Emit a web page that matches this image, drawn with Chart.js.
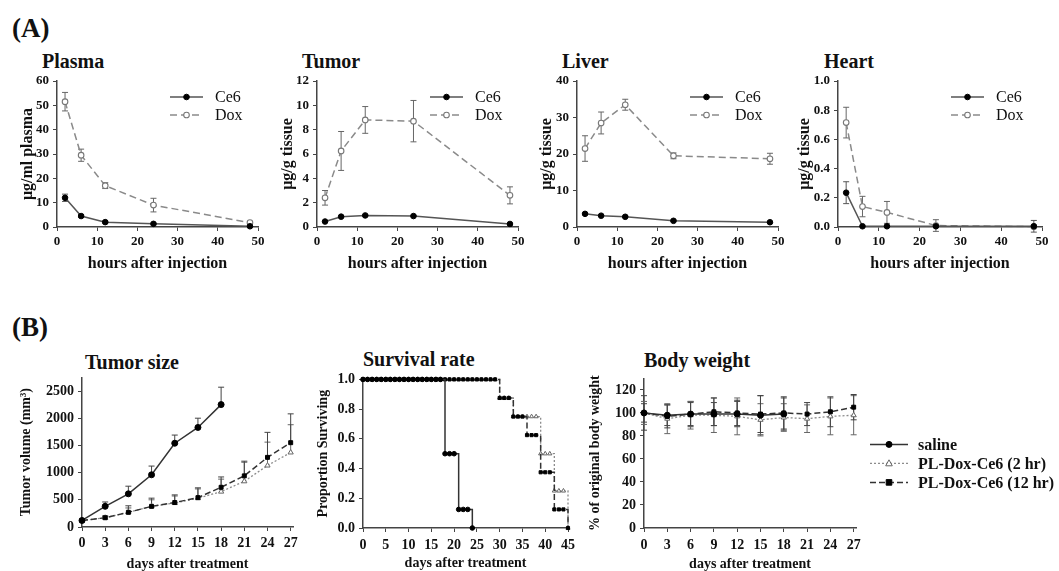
<!DOCTYPE html>
<html>
<head>
<meta charset="utf-8">
<script src="https://cdn.jsdelivr.net/npm/chart.js@4.4.1/dist/chart.umd.min.js"></script>
<style>
  body { margin: 0; background: #fff; width: 1059px; height: 571px; position: relative; overflow: hidden;
         font-family: 'Liberation Serif', 'Times New Roman', serif; color: #111; }
  canvas { position: absolute; }
  .lbl { position: absolute; font-weight: bold; line-height: 1; white-space: nowrap; }
</style>
</head>
<body>
<div class="lbl" style="left:12px;top:15px;font-size:27px">(A)</div>
<div class="lbl" style="left:42px;top:51px;font-size:20px">Plasma</div>
<div class="lbl" style="left:302px;top:51px;font-size:20px">Tumor</div>
<div class="lbl" style="left:562px;top:51px;font-size:20px">Liver</div>
<div class="lbl" style="left:824px;top:51px;font-size:20px">Heart</div>

<div class="lbl" style="left:12px;top:314px;font-size:27px">(B)</div>
<div class="lbl" style="left:85px;top:352px;font-size:20px">Tumor size</div>
<div class="lbl" style="left:363px;top:349px;font-size:20px">Survival rate</div>
<div class="lbl" style="left:644px;top:350px;font-size:20px">Body weight</div>

<script>
// ============ DATA: (A) biodistribution, hours after injection ============
const hours = [2, 6, 12, 24, 48];
const hourTicks = [0, 10, 20, 30, 40, 50];

const plasmaTicks = [0, 10, 20, 30, 40, 50, 60];
const plasmaCe6 = [12, 4.5, 2, 1.3, 0.3];
const plasmaCe6Err = [1.5, 0.5, 0.4, 0.3, 0.2];
const plasmaDox = [51.5, 29.5, 17, 9, 1.8];
const plasmaDoxErr = [3.8, 2.5, 1.2, 2.8, 0.5];

const tumorTicks = [0, 2, 4, 6, 8, 10, 12];
const tumorCe6 = [0.45, 0.85, 0.95, 0.9, 0.25];
const tumorCe6Err = [0.05, 0.05, 0.05, 0.05, 0.05];
const tumorDox = [2.4, 6.25, 8.8, 8.7, 2.6];
const tumorDoxErr = [0.6, 1.6, 1.1, 1.7, 0.7];

const liverTicks = [0, 10, 20, 30, 40];
const liverCe6 = [3.6, 3.1, 2.8, 1.7, 1.3];
const liverCe6Err = [0.2, 0.2, 0.2, 0.2, 0.2];
const liverDox = [21.5, 28.5, 33.5, 19.5, 18.7];
const liverDoxErr = [3.5, 3.0, 1.5, 0.8, 1.5];

const heartTicks = [0, 0.2, 0.4, 0.6, 0.8, 1.0];
const heartCe6 = [0.235, 0.005, 0.005, 0.005, 0.005];
const heartCe6Err = [0.075, 0, 0, 0, 0.04];
const heartDox = [0.715, 0.14, 0.1, 0.01, 0.002];
const heartDoxErr = [0.105, 0.07, 0.075, 0.04, 0];

// ============ DATA: (B) treatment, days after treatment ============
const days = [0, 3, 6, 9, 12, 15, 18, 21, 24, 27];
const dayTicks = [0, 3, 6, 9, 12, 15, 18, 21, 24, 27];

const sizeTicks = [0, 500, 1000, 1500, 2000, 2500];
const sizeSaline = [120, 380, 610, 960, 1540, 1830, 2250];
const sizeSalineErr = [20, 80, 140, 160, 150, 170, 320];
const size2hr = [120, 170, 270, 380, 440, 530, 650, 840, 1130, 1370];
const size2hrErr = [20, 30, 80, 120, 130, 170, 230, 350, 430, 510];
const size12hr = [120, 170, 270, 380, 450, 540, 730, 940, 1280, 1550];
const size12hrErr = [20, 30, 120, 150, 140, 180, 190, 270, 460, 530];

// one point per day
const survDays = Array.from({ length: 46 }, (_, d) => d);
const survDayTicks = [0, 5, 10, 15, 20, 25, 30, 35, 40, 45];
const survTicks = [0, 0.2, 0.4, 0.6, 0.8, 1.0];
const survSaline = [1, 1, 1, 1, 1, 1, 1, 1, 1, 1, 1, 1, 1, 1, 1, 1, 1, 1,
  0.5, 0.5, 0.5, 0.125, 0.125, 0.125, 0];
const surv2hr = [1, 1, 1, 1, 1, 1, 1, 1, 1, 1, 1, 1, 1, 1, 1, 1, 1, 1, 1, 1, 1, 1, 1, 1, 1, 1, 1, 1, 1, 1,
  0.875, 0.875, 0.875, 0.75, 0.75, 0.75, 0.75, 0.75, 0.75, 0.5, 0.5, 0.5, 0.25, 0.25, 0.25, 0];
const surv12hr = [1, 1, 1, 1, 1, 1, 1, 1, 1, 1, 1, 1, 1, 1, 1, 1, 1, 1, 1, 1, 1, 1, 1, 1, 1, 1, 1, 1, 1, 1,
  0.875, 0.875, 0.875, 0.75, 0.75, 0.75, 0.625, 0.625, 0.625, 0.375, 0.375, 0.375, 0.125, 0.125, 0.125, 0];

const bwTicks = [0, 20, 40, 60, 80, 100, 120];
const bwSaline = [100, 98, 99, 99, 99, 98, 99];
const bwSalineErr = [15, 9, 11, 10, 11, 17, 14];
const bw2hr = [100, 95, 98, 98, 97, 94, 96, 95, 97, 98];
const bw2hrErr = [10, 13, 12, 15, 16, 14, 12, 12, 16, 17];
const bw12hr = [100, 97, 99, 101, 100, 99, 100, 99, 101, 105];
const bw12hrErr = [8, 10, 10, 12, 11, 16, 14, 10, 13, 11];

// ============ HELPERS ============
const FONT = "'Liberation Serif', 'Times New Roman', serif";

function pts(xs, ys) {
  return ys.map((y, i) => ({ x: xs[i], y: y }));
}

function drawMarker(ctx, style, x, y, r, fill, stroke, bw) {
  ctx.beginPath();
  if (style === 'triangle') {
    ctx.moveTo(x, y - r * 1.2);
    ctx.lineTo(x + r * 1.1, y + r * 0.8);
    ctx.lineTo(x - r * 1.1, y + r * 0.8);
    ctx.closePath();
  } else if (style === 'rect') {
    ctx.rect(x - r, y - r, r * 2, r * 2);
  } else {
    ctx.arc(x, y, r, 0, Math.PI * 2);
  }
  ctx.fillStyle = fill;
  ctx.fill();
  ctx.lineWidth = bw;
  ctx.strokeStyle = stroke;
  ctx.stroke();
}

// error bars, drawn under the markers
const errorBars = {
  id: 'errorBars',
  beforeDatasetsDraw(chart) {
    const ctx = chart.ctx, ys = chart.scales.y;
    chart.data.datasets.forEach((ds, i) => {
      if (!ds.errors) return;
      const meta = chart.getDatasetMeta(i);
      ctx.save();
      ctx.strokeStyle = ds.errorColor || '#555';
      ctx.lineWidth = 1;
      meta.data.forEach((el, j) => {
        const e = ds.errors[j];
        if (!e) return;
        const v = ds.data[j].y;
        const yTop = ys.getPixelForValue(v + e);
        const yBot = ds.errorUpOnly ? el.y : ys.getPixelForValue(v - e);
        ctx.beginPath();
        ctx.moveTo(el.x, yTop); ctx.lineTo(el.x, yBot);
        ctx.moveTo(el.x - 3, yTop); ctx.lineTo(el.x + 3, yTop);
        if (!ds.errorUpOnly) { ctx.moveTo(el.x - 3, yBot); ctx.lineTo(el.x + 3, yBot); }
        ctx.stroke();
      });
      ctx.restore();
    });
  }
};

// legend with line sample + marker, placed relative to the plot area
const insideLegend = {
  id: 'insideLegend',
  afterDraw(chart, args, opts) {
    if (!opts || !opts.show) return;
    const ctx = chart.ctx, a = chart.chartArea;
    ctx.save();
    ctx.font = opts.textFont;
    ctx.textBaseline = 'middle';
    chart.data.datasets.forEach((ds, i) => {
      const x = a.left + opts.dx, y = a.top + opts.dy + i * opts.gap;
      ctx.strokeStyle = ds.borderColor;
      ctx.lineWidth = ds.borderWidth;
      ctx.setLineDash(ds.borderDash || []);
      ctx.beginPath(); ctx.moveTo(x, y); ctx.lineTo(x + opts.lineLen, y); ctx.stroke();
      ctx.setLineDash([]);
      drawMarker(ctx, ds.pointStyle, x + opts.lineLen / 2, y, ds.pointRadius,
        ds.pointBackgroundColor, ds.pointBorderColor, ds.pointBorderWidth || 1);
      ctx.fillStyle = '#111';
      ctx.fillText(ds.label, x + opts.lineLen + opts.textGap, y + 1);
    });
    ctx.restore();
  }
};

Chart.register(errorBars, insideLegend);

function makeChart(c) {
  const lhY = c.yTitleSize * 1.2, lhX = c.xTitleSize * 1.2;
  const left = Math.round(c.yTitleX - lhY / 2 - 2);
  const top = c.T - 12;
  const yw = c.L - left;
  const xh = Math.round(c.xTitleY + lhX / 2 + 2 - c.B);
  const w = yw + (c.R - c.L) + c.padR;
  const h = 12 + (c.B - c.T) + xh;
  const xPad = c.xTickY - c.B - 4 - c.tickSize * 1.2 / 2;

  const cv = document.createElement('canvas');
  cv.width = w; cv.height = h;
  cv.style.left = left + 'px'; cv.style.top = top + 'px';
  document.body.appendChild(cv);

  const tickFont = { family: FONT, size: c.tickSize, weight: 'bold' };
  const axisGrid = { display: true, drawOnChartArea: false, drawTicks: true, tickLength: 4, color: '#444', lineWidth: 1 };
  const axisBorder = { display: true, color: '#444', width: 1.5 };

  return new Chart(cv, {
    type: 'line',
    data: { datasets: c.datasets },
    options: {
      responsive: false,
      animation: false,
      events: [],
      layout: { autoPadding: false, padding: { top: 12, right: c.padR, left: 0, bottom: 0 } },
      plugins: {
        legend: { display: false },
        tooltip: { enabled: false },
        insideLegend: c.legend || { show: false }
      },
      scales: {
        x: {
          type: 'linear', min: 0, max: c.xMax,
          afterFit: s => { s.height = xh; },
          afterBuildTicks: s => { s.ticks = c.xTicks.map(v => ({ value: v })); },
          grid: axisGrid, border: axisBorder,
          ticks: { autoSkip: false, maxRotation: 0, font: tickFont, color: '#111', padding: xPad,
                   callback: v => String(Math.round(v)) },
          title: { display: true, text: c.xTitle, color: '#111', padding: { top: 0, bottom: 2 },
                   font: { family: FONT, size: c.xTitleSize, weight: 'bold' } }
        },
        y: {
          type: 'linear', min: 0, max: c.yMax,
          afterFit: s => { s.width = yw; },
          afterBuildTicks: s => { s.ticks = c.yTicks.map(v => ({ value: v })); },
          grid: axisGrid, border: axisBorder,
          ticks: { autoSkip: false, font: tickFont, color: '#111', padding: 4,
                   callback: v => c.yDec ? v.toFixed(c.yDec) : String(Math.round(v)) },
          title: { display: true, text: c.yTitle, color: '#111', padding: { top: 2, bottom: 0 },
                   font: { family: FONT, size: c.yTitleSize, weight: 'bold' } }
        }
      }
    }
  });
}

// ============ (A) datasets ============
function ce6Set(vals, errs) {
  return { label: 'Ce6', data: pts(hours, vals), errors: errs, errorColor: '#555',
    borderColor: '#555', borderWidth: 1.5, pointStyle: 'circle', pointRadius: 2.8,
    pointBackgroundColor: '#000', pointBorderColor: '#000', pointBorderWidth: 1, clip: false };
}
function doxSet(vals, errs) {
  return { label: 'Dox', data: pts(hours, vals), errors: errs, errorColor: '#666',
    borderColor: '#8a8a8a', borderWidth: 1.5, borderDash: [7, 4], pointStyle: 'circle', pointRadius: 2.8,
    pointBackgroundColor: '#fff', pointBorderColor: '#777', pointBorderWidth: 1.1, clip: false };
}

const legendA = { show: true, dx: 113, dy: 16, gap: 18, lineLen: 33, textGap: 12, textFont: '16px ' + FONT };
const baseA = { T: 81, B: 227, padR: 14, tickSize: 13, yTitleSize: 16, xTitleSize: 16,
  xTickY: 242, xTitleY: 263, xMax: 50, xTicks: hourTicks, xTitle: 'hours after injection', legend: legendA };

makeChart(Object.assign({}, baseA, { L: 57, R: 258, yTitleX: 28, yMax: 60, yTicks: plasmaTicks,
  yTitle: 'μg/ml plasma',
  datasets: [ce6Set(plasmaCe6, plasmaCe6Err), doxSet(plasmaDox, plasmaDoxErr)] }));
makeChart(Object.assign({}, baseA, { L: 317, R: 518, yTitleX: 288, yMax: 12, yTicks: tumorTicks,
  yTitle: 'μg/g tissue',
  datasets: [ce6Set(tumorCe6, tumorCe6Err), doxSet(tumorDox, tumorDoxErr)] }));
makeChart(Object.assign({}, baseA, { L: 577, R: 778, yTitleX: 547, yMax: 40, yTicks: liverTicks,
  yTitle: 'μg/g tissue',
  datasets: [ce6Set(liverCe6, liverCe6Err), doxSet(liverDox, liverDoxErr)] }));
makeChart(Object.assign({}, baseA, { L: 838, R: 1042, padR: 17, yTitleX: 805, yMax: 1, yTicks: heartTicks,
  yDec: 1, yTitle: 'μg/g tissue',
  datasets: [ce6Set(heartCe6, heartCe6Err), doxSet(heartDox, heartDoxErr)] }));

// ============ (B) datasets ============
function salineSet(xs, vals, errs, r) {
  return { label: 'saline', data: pts(xs, vals), errors: errs, errorColor: '#444', order: 0,
    borderColor: '#333', borderWidth: 1.5, pointStyle: 'circle', pointRadius: r,
    pointBackgroundColor: '#000', pointBorderColor: '#000', pointBorderWidth: 1, clip: false };
}
function hr2Set(xs, vals, errs, r) {
  return { label: 'PL-Dox-Ce6 (2 hr)', data: pts(xs, vals), errors: errs, errorColor: '#666', order: 2,
    borderColor: '#8c8c8c', borderWidth: 1.3, borderDash: [2, 2], pointStyle: 'triangle', pointRadius: r,
    pointBackgroundColor: '#fff', pointBorderColor: '#666', pointBorderWidth: 1, clip: false };
}
function hr12Set(xs, vals, errs, r) {
  return { label: 'PL-Dox-Ce6 (12 hr)', data: pts(xs, vals), errors: errs, errorColor: '#444', order: 1,
    borderColor: '#333', borderWidth: 1.5, borderDash: [6, 3], pointStyle: 'rect', pointRadius: r,
    pointBackgroundColor: '#000', pointBorderColor: '#000', pointBorderWidth: 1, clip: false };
}

const baseB = { padR: 14, tickSize: 14, yTitleSize: 14, xTitleSize: 14, xTitle: 'days after treatment' };

// tumor size: upper error bars only
const tsSets = [salineSet(days, sizeSaline, sizeSalineErr, 3), hr2Set(days, size2hr, size2hrErr, 3),
  hr12Set(days, size12hr, size12hrErr, 2.8)];
tsSets.forEach(ds => { ds.errorUpOnly = true; });
makeChart(Object.assign({}, baseB, { L: 82, R: 293, T: 377, B: 527, yTitleX: 26, xTickY: 543, xTitleY: 565,
  xMax: 27.3, xTicks: dayTicks, yMax: 2750, yTicks: sizeTicks, yTitle: 'Tumor volume (mm³)', datasets: tsSets }));

// survival: stepped lines, a marker per day
const svSets = [salineSet(survDays, survSaline, null, 2.3), hr2Set(survDays, surv2hr, null, 2.4),
  hr12Set(survDays, surv12hr, null, 2.2)];
svSets.forEach(ds => { ds.stepped = true; });
makeChart(Object.assign({}, baseB, { L: 363, R: 568, T: 379, B: 528, yTitleX: 323, xTickY: 545, xTitleY: 564,
  xMax: 45, xTicks: survDayTicks, yMax: 1, yTicks: survTicks, yDec: 1, yTitle: 'Proportion Surviving',
  datasets: svSets }));

// body weight, with the shared legend at its right
makeChart(Object.assign({}, baseB, { L: 644, R: 856, T: 378, B: 528, padR: 203, yTitleX: 595, xTickY: 545,
  xTitleY: 565, xMax: 27.3, xTicks: dayTicks, yMax: 130, yTicks: bwTicks, yTitle: '% of original body weight',
  legend: { show: true, dx: 226, dy: 66, gap: 19, lineLen: 38, textGap: 10, textFont: 'bold 16px ' + FONT },
  datasets: [salineSet(days, bwSaline, bwSalineErr, 3), hr2Set(days, bw2hr, bw2hrErr, 3),
    hr12Set(days, bw12hr, bw12hrErr, 2.8)] }));
</script>
</body>
</html>
